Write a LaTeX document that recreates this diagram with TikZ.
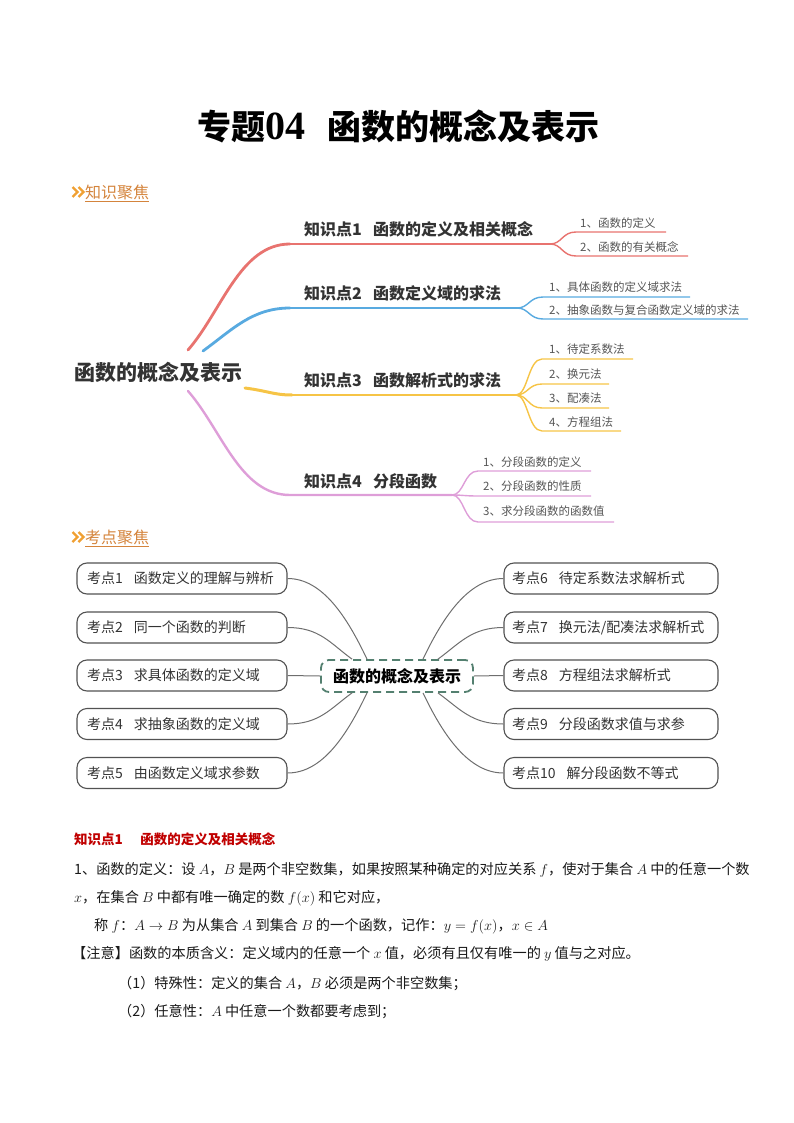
\documentclass[tikz,border=0pt]{standalone}
\usepackage{fontspec}
\setmainfont{Noto Sans CJK SC}
\newfontfamily\timesfont{Liberation Serif}
\usetikzlibrary{positioning,calc}
\definecolor{mmred}{RGB}{232,115,111}
\definecolor{mmblue}{RGB}{88,170,224}
\definecolor{mmyellow}{RGB}{246,196,70}
\definecolor{mmpink}{RGB}{222,158,216}
\definecolor{hdorange}{RGB}{212,132,60}
\definecolor{chevorange}{RGB}{240,160,50}
\definecolor{hubgreen}{RGB}{84,128,112}
\definecolor{kdred}{RGB}{192,0,0}
\definecolor{txtgray}{RGB}{51,51,51}
\definecolor{subgray}{RGB}{85,85,85}
\definecolor{linkgray}{RGB}{110,110,110}

\tikzset{
  sechead/.style={anchor=west,inner sep=0pt,font=\fontsize{16}{18}\selectfont,text=hdorange},
  chev/.style={chevorange,line width=2.3pt,line join=miter},
  rootnode/.style={inner sep=0pt,font=\fontsize{21}{24}\selectfont\bfseries,text=txtgray},
  kpoint/.style={anchor=west,inner sep=0pt,font=\fontsize{16}{18}\selectfont\bfseries,text=txtgray},
  subitem/.style={anchor=west,inner sep=0pt,font=\fontsize{11.5}{13}\selectfont,text=subgray},
  branch/.style={line width=2.4pt,line cap=round},
  subline/.style={line width=1.4pt},
  kbox/.style={draw=txtgray!85,line width=1.1pt,rounded corners=10pt,minimum height=31pt,
    text width=190pt,inner xsep=10pt,inner ysep=0pt,align=left,
    font=\fontsize{14}{16}\selectfont,text=txtgray},
  kboxr/.style={kbox,text width=198pt,inner xsep=8pt},
  hub/.style={draw=hubgreen,dash pattern=on 8pt off 5pt,line width=1.8pt,rounded corners=8pt,
    minimum width=152pt,minimum height=32pt,inner sep=0pt,font=\fontsize{16}{18}\selectfont\bfseries},
  link/.style={draw=linkgray,line width=1pt},
  bodytxt/.style={anchor=base west,inner sep=0pt,font=\fontsize{14.2}{16}\selectfont,text=black!90}
}

\begin{document}
\begin{tikzpicture}[x=1pt,y=-1pt]
  \useasboundingbox (0,0) rectangle (794,1123);
  % title
  \node[anchor=west,inner sep=0pt,font=\fontsize{34}{38}\selectfont\bfseries] (title) at (197,126)
    {专题{\timesfont\fontsize{40}{40}\selectfont 04}\hspace{22pt}函数的概念及表示};

  % section headings
  \draw[chev] (72.5,187) -- (77.5,192) -- (72.5,197) (78.5,187) -- (83.5,192) -- (78.5,197);
  \node[sechead] (sec1) at (85,192) {知识聚焦};
  \draw[hdorange,line width=0.8pt] ([yshift=-1.5pt]sec1.south west) -- ([yshift=-1.5pt]sec1.south east);
  \draw[chev] (72.5,532) -- (77.5,537) -- (72.5,542) (78.5,532) -- (83.5,537) -- (78.5,542);
  \node[sechead] (sec2) at (85,537) {考点聚焦};
  \draw[hdorange,line width=0.8pt] ([yshift=-1.5pt]sec2.south west) -- ([yshift=-1.5pt]sec2.south east);

  % mind map 1
  \node[rootnode] (root) at (158,372) {函数的概念及表示};
  \node[kpoint] (kp1) at (304,229) {知识点1\hspace{0.7em}函数的定义及相关概念};
  \node[kpoint] (kp2) at (304,293) {知识点2\hspace{0.7em}函数定义域的求法};
  \node[kpoint] (kp3) at (304,380) {知识点3\hspace{0.7em}函数解析式的求法};
  \node[kpoint] (kp4) at (304,481) {知识点4\hspace{0.7em}分段函数};

  \coordinate (rs) at (188,350);
  \coordinate (rf) at (550,244);
  \coordinate (bs) at (203,351);
  \coordinate (bf) at (517,308);
  \coordinate (ys) at (245,388);
  \coordinate (yf) at (516,395);
  \coordinate (ps) at (188,391);
  \coordinate (pf) at (452,495);
  \draw[branch,mmred,line width=2.8pt] (rs) .. controls (222,311) and (240,244) .. (290,244);
  \draw[branch,mmred] (290,244) -- (rf);
  \draw[branch,mmblue,line width=2.8pt] (bs) .. controls (232,330) and (252,308) .. (290,308);
  \draw[branch,mmblue] (290,308) -- (bf);
  \draw[branch,mmyellow,line width=3pt] (ys) .. controls (268,391) and (274,395) .. (292,395);
  \draw[branch,mmyellow] (292,395) -- (yf);
  \draw[branch,mmpink] (ps) .. controls (222,430) and (240,495) .. (290,495) -- (pf);

  % sub items
  \foreach \y/\e in {232/666,256/688}
    \draw[subline,mmred] (rf) .. controls +(12,0) and +(-14,0) .. (576,\y) -- (\e,\y);
  \foreach \y/\e in {297/690,319/748}
    \draw[subline,mmblue] (bf) .. controls +(12,0) and +(-14,0) .. (543,\y) -- (\e,\y);
  \foreach \y/\e in {359/633,384/609,408/609,431/621}
    \draw[subline,mmyellow] (yf) .. controls +(12,0) and +(-14,0) .. (542,\y) -- (\e,\y);
  \foreach \y/\e in {471/591,496/591,522/614}
    \draw[subline,mmpink] (pf) .. controls +(12,0) and +(-14,0) .. (478,\y) -- (\e,\y);

  \node[subitem] (r1) at (580,223) {1、函数的定义};
  \node[subitem] (r2) at (580,247) {2、函数的有关概念};
  \node[subitem] (b1) at (549,287) {1、具体函数的定义域求法};
  \node[subitem] (b2) at (549,310) {2、抽象函数与复合函数定义域的求法};
  \node[subitem] (y1) at (549,349) {1、待定系数法};
  \node[subitem] (y2) at (549,374) {2、换元法};
  \node[subitem] (y3) at (549,398) {3、配凑法};
  \node[subitem] (y4) at (549,422) {4、方程组法};
  \node[subitem] (p1) at (483,462) {1、分段函数的定义};
  \node[subitem] (p2) at (483,486) {2、分段函数的性质};
  \node[subitem] (p3) at (483,511) {3、求分段函数的函数值};

  % mind map 2
  \node[hub] (hub) at (397,676) {函数的概念及表示};
  \node[kbox] (k1) at (182,578.5) {考点1\hspace{0.8em}函数定义的理解与辨析};
  \node[kbox] (k2) at (182,627.5) {考点2\hspace{0.8em}同一个函数的判断};
  \node[kbox] (k3) at (182,675.5) {考点3\hspace{0.8em}求具体函数的定义域};
  \node[kbox] (k4) at (182,724) {考点4\hspace{0.8em}求抽象函数的定义域};
  \node[kbox] (k5) at (182,773) {考点5\hspace{0.8em}由函数定义域求参数};
  \node[kboxr] (k6) at (611,578.5) {考点6\hspace{0.8em}待定系数法求解析式};
  \node[kboxr] (k7) at (611,627.5) {考点7\hspace{0.8em}换元法/配凑法求解析式};
  \node[kboxr] (k8) at (611,675.5) {考点8\hspace{0.8em}方程组法求解析式};
  \node[kboxr] (k9) at (611,724) {考点9\hspace{0.8em}分段函数求值与求参};
  \node[kboxr] (k10) at (611,773) {考点10\hspace{0.8em}解分段函数不等式};

  \draw[link] (k1.east) .. controls +(35,0) and +(-20,-42) .. ($(hub.north)+(-30,0)$);
  \draw[link] (k2.east) .. controls +(32,0) and +(-22,-16) .. ($(hub.north)+(-45,0)$);
  \draw[link] (k3.east) -- (hub.west);
  \draw[link] (k4.east) .. controls +(32,0) and +(-22,16) .. ($(hub.south)+(-45,0)$);
  \draw[link] (k5.east) .. controls +(35,0) and +(-20,42) .. ($(hub.south)+(-30,0)$);
  \draw[link] (k6.west) .. controls +(-35,0) and +(20,-42) .. ($(hub.north)+(26,0)$);
  \draw[link] (k7.west) .. controls +(-32,0) and +(22,-16) .. ($(hub.north)+(41,0)$);
  \draw[link] (k8.west) -- (hub.east);
  \draw[link] (k9.west) .. controls +(-32,0) and +(22,16) .. ($(hub.south)+(41,0)$);
  \draw[link] (k10.west) .. controls +(-35,0) and +(20,42) .. ($(hub.south)+(26,0)$);

  % text below
  \node[bodytxt,font=\fontsize{13.5}{15}\selectfont\bfseries,text=kdred] (t0) at (74,844) {知识点1\hspace{1.3em}函数的定义及相关概念};
  \node[bodytxt] (t1) at (74,874) {1、函数的定义：设 $A$，$B$ 是两个非空数集，如果按照某种确定的对应关系 $f$，使对于集合 $A$ 中的任意一个数};
  \node[bodytxt] (t2) at (74,902) {$x$，在集合 $B$ 中都有唯一确定的数 $f(x)$ 和它对应，};
  \node[bodytxt] (t3) at (94,930) {称 $f$：$A\rightarrow B$ 为从集合 $A$ 到集合 $B$ 的一个函数，记作：$y=f(x)$，$x\in A$};
  \node[bodytxt] (t4) at (72,958) {【注意】函数的本质含义：定义域内的任意一个 $x$ 值，必须有且仅有唯一的 $y$ 值与之对应。};
  \node[bodytxt] (t5) at (118,988) {（1）特殊性：定义的集合 $A$，$B$ 必须是两个非空数集；};
  \node[bodytxt] (t6) at (118,1016) {（2）任意性：$A$ 中任意一个数都要考虑到；};
\end{tikzpicture}
\end{document}
